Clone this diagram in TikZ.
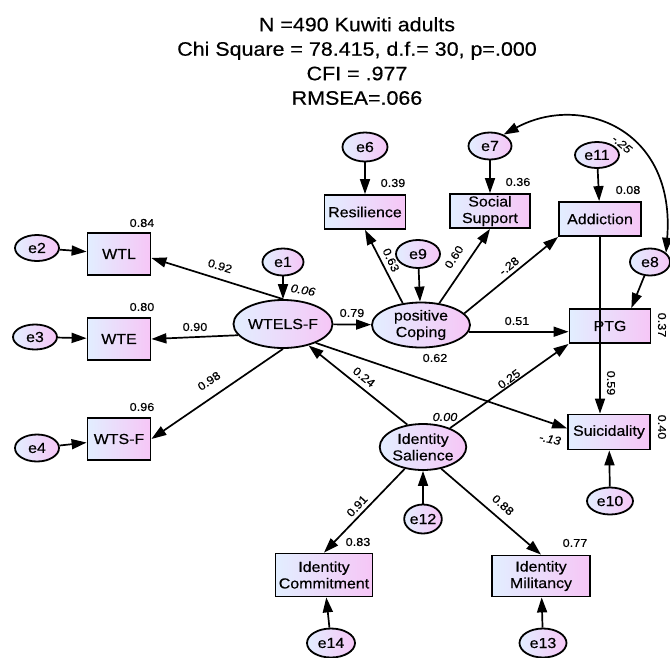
\documentclass[tikz,border=0pt]{standalone}
\usepackage{fontspec}
\setmainfont{Liberation Sans}[FakeStretch=1.1, FakeBold=0.4]
\usetikzlibrary{arrows.meta,shapes.geometric}
\definecolor{sLeft}{RGB}{226,238,255}
\definecolor{sRight}{RGB}{246,198,246}
\tikzset{
  obs/.style={rectangle, draw=black, line width=1.8pt, left color=sLeft, right color=sRight,
              minimum width=81pt, minimum height=34pt, inner sep=1pt, align=center,
              font=\fontsize{14.5}{16.5}\selectfont},
  lat/.style={ellipse, draw=black, line width=1.8pt, left color=sLeft, right color=sRight,
              inner sep=0pt, align=center, font=\fontsize{14.5}{16.5}\selectfont},
  err/.style={lat, minimum width=44pt, minimum height=27pt},
  path/.style={-{Triangle[length=15pt,width=10pt]}, line width=1.7pt},
  cov/.style={{Triangle[length=15pt,width=10pt]}-{Triangle[length=15pt,width=10pt]}, line width=1.7pt},
  est/.style={font=\fontsize{11.5}{13}\selectfont, inner sep=0.5pt},
  esti/.style={est, font=\fontsize{11.5}{13}\selectfont\itshape},
  hdr/.style={align=center, font=\fontsize{19.5}{24.5}\selectfont},
}

\begin{document}
\begin{tikzpicture}[x=1pt, y=-1pt]
  \path[use as bounding box, fill=white] (0,0) rectangle (670,657);

  %====================== HEADER ======================
  \node[hdr] (title) at (357,61) {N =490 Kuwiti adults\\Chi Square = 78.415, d.f.= 30, p=.000\\CFI = .977\\RMSEA=.066};

  %====================== WTELS-F SIDE ======================
  \node[lat, minimum width=96pt, minimum height=48pt] (wtels) at (283,324) {WTELS-F};
  \node[err, minimum width=41pt] (e1) at (283,262) {e1};
  \node[obs, minimum width=63pt, minimum height=42pt] (wtl)  at (119,254) {WTL};
  \node[obs, minimum width=63pt, minimum height=42pt] (wte)  at (119,339) {WTE};
  \node[obs, minimum width=63pt, minimum height=42pt] (wtsf) at (119,439) {WTS-F};
  \node[err, minimum height=26pt] (e2) at (37,248) {e2};
  \node[err, minimum height=25pt] (e3) at (35,337) {e3};
  \node[err] (e4) at (37,448) {e4};

  %====================== COPING SIDE ======================
  \node[lat, minimum width=98pt, minimum height=45pt] (pcop) at (421,325) {positive\\Coping};
  \node[err, minimum height=28pt] (e9) at (418,254) {e9};
  \node[obs] (res)    at (365,212) {Resilience};
  \node[err, minimum width=45pt, minimum height=29pt] (e6) at (365,147) {e6};
  \node[obs, minimum width=80pt] (socsup) at (490,211) {Social\\Support};
  \node[err, minimum width=43pt] (e7) at (490,146) {e7};
  \node[obs, minimum width=82pt] (addic) at (600,219) {Addiction};
  \node[err, minimum height=26pt] (e11) at (597,155) {e11};
  \node[obs] (ptg) at (610,326) {PTG};
  \node[err, minimum width=40pt] (e8) at (650,262) {e8};
  \node[obs, minimum width=82pt, minimum height=35pt] (suic) at (609,432) {Suicidality};
  \node[err, minimum width=46pt] (e10) at (610,501) {e10};

  %====================== IDENTITY SIDE ======================
  \node[lat, minimum width=85pt, minimum height=46pt] (idsal) at (423,447) {Identity\\Salience};
  \node[err, minimum width=37pt, minimum height=29pt] (e12) at (423,519) {e12};
  \node[obs, minimum width=97pt, minimum height=43pt] (idcom) at (324,575) {Identity\\Commitment};
  \node[obs, minimum width=98pt, minimum height=41pt] (idmil) at (541,576) {Identity\\Militancy};
  \node[err, minimum width=48pt, minimum height=29pt] (e14) at (331,643) {e14};
  \node[err, minimum width=47pt, minimum height=29pt] (e13) at (543,643) {e13};

  %====================== PATHS ======================
  \draw[path] (e2) -- (wtl);
  \draw[path] (e3) -- (wte);
  \draw[path] (e4) -- (wtsf);
  \draw[path] (wtels.north) -- (wtl.-7);
  \draw[path] (wtels.194) -- (wte.east);
  \draw[path] (wtels.south) -- (wtsf.east);
  \draw[path] (e1) -- (wtels);
  \draw[path] (wtels) -- (pcop);

  \draw[path] (pcop.130) -- (res.south);
  \draw[path] (e9) -- (pcop);
  \draw[path] (pcop.50) -- (socsup.south);
  \draw[path] (pcop.15) -- (addic.south west);
  \draw[path] (pcop.-8) -- (pcop.-8 -| ptg.west);
  \draw[path] (e6) -- (res);
  \draw[path] (e7) -- (socsup);
  \draw[path] (e11) -- (addic);
  \draw[path] (e8) -- (ptg.40);
  \draw[path] (addic.south) -- (addic.south |- suic.north);
  \draw[path] (wtels.-30) -- (suic.175);
  \draw[path] (e10) -- (suic);

  \draw[path] (idsal.125) -- (wtels.-40);
  \draw[path] (idsal.35) -- (ptg.south west);
  \draw[path] (idsal.-130) -- (idcom.north);
  \draw[path] (idsal.-50) -- (idmil.north);
  \draw[path] (e12) -- (idsal);
  \draw[path] (e14) -- (idcom);
  \draw[path] (e13) -- (idmil);

  % covariance e7 <-> e8
  \draw[cov] (e7.40) .. controls (580,93) and (676,128) .. (e8.30);

  %====================== ESTIMATES ======================
  \node[est] (r2wtl)  at (142,223) {0.84};
  \node[est] (r2wte)  at (142,307) {0.80};
  \node[est] (r2wtsf) at (142,407) {0.96};
  \node[est, rotate=-17] (bwtl) at (220,266) {0.92};
  \node[est] (bwte) at (195,327) {0.90};
  \node[est, rotate=34] (bwtsf) at (209,381) {0.98};
  \node[esti, rotate=-10] (r2wtels) at (303,290) {0.06};
  \node[est] (bpcop) at (352,313) {0.79};
  \node[est] (r2res) at (393,183) {0.39};
  \node[est, rotate=-65] (bres) at (391,260) {0.63};
  \node[est] (r2soc) at (518,182) {0.36};
  \node[est, rotate=57] (bsoc) at (454,257) {0.60};
  \node[est] (r2add) at (628,190) {0.08};
  \node[est, rotate=39] (badd) at (509,266) {-.28};
  \node[esti, rotate=-40] (c78) at (622,144) {-.25};
  \node[est] (bptg) at (517,321) {0.51};
  \node[est, rotate=-90] (r2ptg) at (662,325) {0.37};
  \node[est] (bsuicw) at (435,358) {0.62};
  \node[esti] (r2idsal) at (445,417) {0.00};
  \node[est, rotate=-39] (bwid) at (364,377) {0.24};
  \node[est, rotate=36] (bptgid) at (509,379) {0.25};
  \node[est, rotate=-90] (bsuica) at (611,383) {0.59};
  \node[est, rotate=-90] (r2suic) at (662,427) {0.40};
  \node[esti, rotate=-12] (bsuicid) at (550,439) {-.13};
  \node[est, rotate=47] (bcom) at (357,506) {0.91};
  \node[est] (r2com) at (358,542) {0.83};
  \node[est, rotate=-42] (bmil) at (503,505) {0.88};
  \node[est] (r2mil) at (575,543) {0.77};
\end{tikzpicture}
\end{document}
